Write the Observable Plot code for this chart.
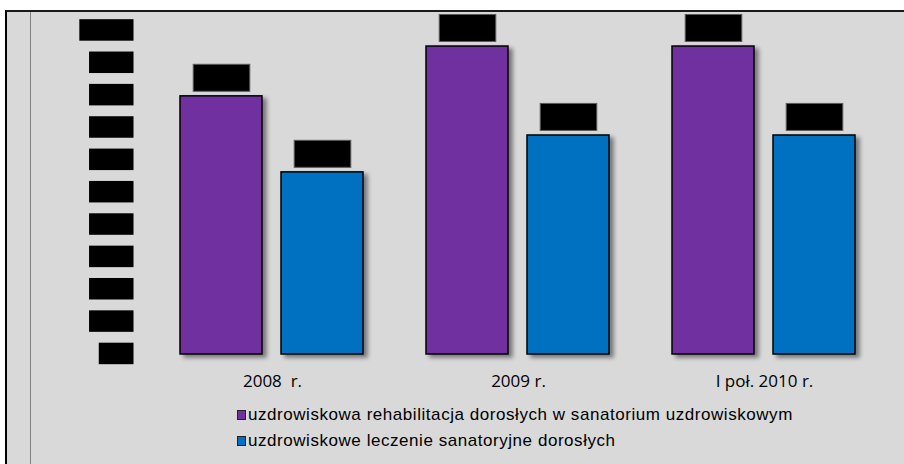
<!DOCTYPE html>
<html><head><meta charset="utf-8">
<script src="https://cdn.jsdelivr.net/npm/d3@7"></script>
<script src="https://cdn.jsdelivr.net/npm/@observablehq/plot@0.6"></script>
<style>
body{margin:0;background:#fff;}
#wrap{position:relative;width:904px;height:464px;overflow:hidden;}
#frame{position:absolute;left:5px;top:10px;width:910px;height:470px;background:#d9d9d9;border-left:2px solid #000;border-top:2px solid #1a1a1a;box-sizing:border-box;}
#vline{position:absolute;left:30px;top:12px;width:1px;height:460px;background:#808080;}
#chart{position:absolute;left:0;top:0;}
#chart text{white-space:pre;}
#legend{position:absolute;left:237px;top:402px;font-family:"Liberation Sans",Arial,sans-serif;font-size:17px;letter-spacing:0.55px;color:#000;}
.item{display:flex;align-items:center;height:26px;}
.sw{width:7px;height:8px;border:1px solid #222;margin-right:2px;}
#chart g[aria-label="bar"] rect{filter:drop-shadow(4px 3px 2px rgba(0,0,0,0.45));}
</style>
</head><body>
<div id="wrap">
  <div id="frame"></div>
  <div id="vline"></div>
  <div id="chart"></div>
  <div id="legend"></div>
</div>
<script>
const years = ["2008  r.", "2009 r.", "I poł. 2010 r."];
const seriesNames = [
  "uzdrowiskowa rehabilitacja dorosłych w sanatorium uzdrowiskowym",
  "uzdrowiskowe leczenie sanatoryjne dorosłych"
];
const rehabValues = [79.8, 95.2, 95.2];
const leczenieValues = [56.3, 67.7, 67.7];
const yTicks = [0, 10, 20, 30, 40, 50, 60, 70, 80, 90, 100];
const colors = ["#7030a0", "#0070c0"];

const rows = years.flatMap((y, i) => [
  {year: y, series: seriesNames[0], value: rehabValues[i]},
  {year: y, series: seriesNames[1], value: leczenieValues[i]}
]);

const svg = Plot.plot({
  width: 904,
  height: 400,
  marginLeft: 149,
  marginRight: 17,
  marginTop: 30.5,
  marginBottom: 46,
  style: {background: "transparent", fontFamily: "Open Sans", fontSize: "17px", color: "#000"},
  facet: {data: rows, x: "year"},
  fx: {domain: years, padding: 0, axis: "bottom", tickSize: 0, tickPadding: 20, label: null},
  x: {domain: seriesNames, axis: null, paddingInner: 0.186, paddingOuter: 0.299},
  y: {domain: [0, 100], ticks: yTicks, tickSize: 0, tickPadding: 28, label: null},
  color: {domain: seriesNames, range: colors},
  marks: [
    Plot.barY(rows, {x: "series", y: "value", fill: "series", stroke: "#000", strokeWidth: 1.5}),
    Plot.text(rows, {x: "series", y: "value", text: d => d.value.toFixed(1).replace(".", ","),
      dy: -17.5, lineAnchor: "middle", fill: "#000"})
  ]
});
document.getElementById("chart").append(svg);

function boxText(texts, padL, padR, h, stroke) {
  texts.forEach(t => {
    const b = t.getBBox();
    const r = document.createElementNS("http://www.w3.org/2000/svg", "rect");
    r.setAttribute("x", b.x - padL);
    r.setAttribute("width", b.width + padL + padR);
    r.setAttribute("y", b.y + b.height / 2 - h / 2);
    r.setAttribute("height", h);
    const tr = t.getAttribute("transform");
    if (tr) r.setAttribute("transform", tr);
    r.setAttribute("fill", "#000");
    if (stroke) { r.setAttribute("stroke", stroke); r.setAttribute("stroke-width", 1); }
    else r.setAttribute("stroke", "none");
    t.parentNode.insertBefore(r, t);
  });
}
boxText([...svg.querySelectorAll('g[aria-label^="y-axis"] text')], 13, 12, 21.5, null);
boxText([...svg.querySelectorAll('g[aria-label="text"] text')], 11.5, 11.5, 27, "#5a5a5a");

const legend = document.getElementById("legend");
seriesNames.forEach((s, i) => {
  const item = document.createElement("div");
  item.className = "item";
  const sw = document.createElement("span");
  sw.className = "sw";
  sw.style.background = colors[i];
  const lab = document.createElement("span");
  lab.textContent = s;
  item.append(sw, lab);
  legend.append(item);
});
</script>
</body></html>
